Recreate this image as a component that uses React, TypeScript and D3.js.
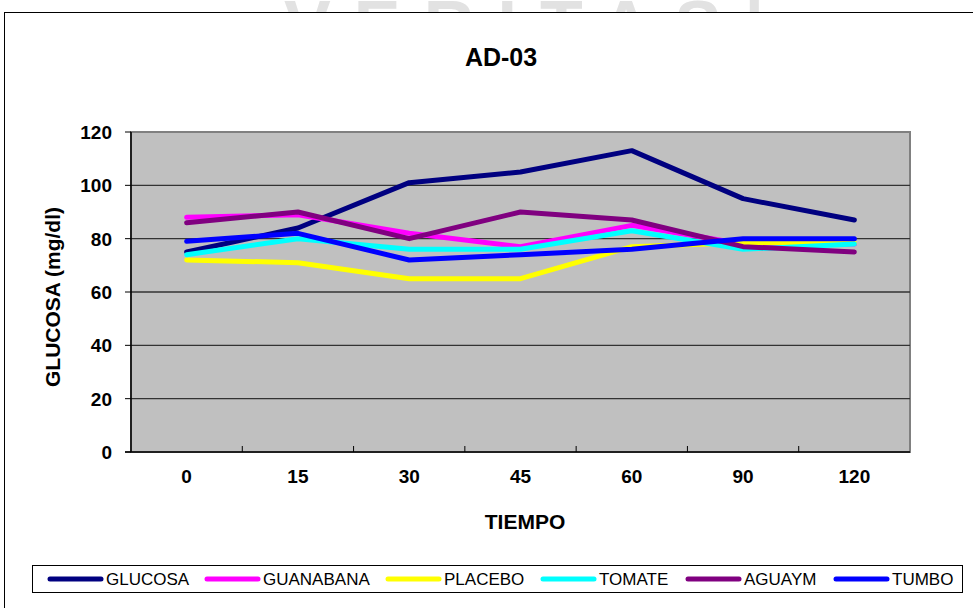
import React, { useRef, useEffect } from 'react';
import * as d3 from 'd3';

const tiempos = ['0', '15', '30', '45', '60', '90', '120'];
const yTicks = [0, 20, 40, 60, 80, 100, 120];

const glucosa = [75, 84, 101, 105, 113, 95, 87];
const guanabana = [88, 89, 82, 77, 85, 78, 78];
const placebo = [72, 71, 65, 65, 77, 78.5, 78.5];
const tomate = [74, 80, 76, 76, 83, 76, 78];
const aguaym = [86, 90, 80, 90, 87, 77, 75];
const tumbo = [79, 82, 72, 74, 76, 80, 80];

const seriesNames = ['GLUCOSA', 'GUANABANA', 'PLACEBO', 'TOMATE', 'AGUAYM', 'TUMBO'];
const seriesColors = ['#000080', '#FF00FF', '#FFFF00', '#00FFFF', '#800080', '#0000FF'];
const seriesValues = [glucosa, guanabana, placebo, tomate, aguaym, tumbo];

export default function App() {
    const svgRef = useRef<SVGSVGElement | null>(null);

    useEffect(() => {
        const width = 973;
        const height = 608;
        const plot = { left: 131, right: 910, top: 132, bottom: 452 };
        const font = "'Liberation Sans', Arial, sans-serif";

        d3.select(svgRef.current).selectAll('*').remove();

        const svg = d3
            .select(svgRef.current)
            .attr('width', width)
            .attr('height', height);

        svg.append('rect')
            .attr('width', width)
            .attr('height', height)
            .attr('fill', 'white');

        // watermark peeking above the chart frame
        svg.append('text')
            .attr('x', 284)
            .attr('y', 50)
            .attr('textLength', 480)
            .attr('lengthAdjust', 'spacing')
            .attr('font-family', font)
            .attr('font-weight', 'bold')
            .attr('font-size', 70)
            .attr('fill', '#e2e2e2')
            .text('VERITAS|');

        // chart frame
        svg.append('rect')
            .attr('x', 4.5)
            .attr('y', 12.5)
            .attr('width', 1000)
            .attr('height', 700)
            .attr('fill', 'white')
            .attr('stroke', 'black')
            .attr('stroke-width', 1);

        const x = d3
            .scaleBand()
            .domain(tiempos)
            .range([plot.left, plot.right]);

        const y = d3
            .scaleLinear()
            .domain([0, 120])
            .range([plot.bottom, plot.top]);

        // plot area
        svg.append('rect')
            .attr('x', plot.left)
            .attr('y', plot.top)
            .attr('width', plot.right - plot.left)
            .attr('height', plot.bottom - plot.top)
            .attr('fill', '#C0C0C0')
            .attr('stroke', '#808080')
            .attr('stroke-width', 2);

        yTicks.slice(1, -1).forEach((t) => {
            svg.append('line')
                .attr('x1', plot.left)
                .attr('x2', plot.right)
                .attr('y1', y(t))
                .attr('y2', y(t))
                .attr('stroke', '#333')
                .attr('stroke-width', 1.3);
        });

        // axes
        svg.append('line')
            .attr('x1', plot.left)
            .attr('x2', plot.left)
            .attr('y1', plot.top)
            .attr('y2', plot.bottom)
            .attr('stroke', 'black')
            .attr('stroke-width', 1.5);

        svg.append('line')
            .attr('x1', plot.left - 6)
            .attr('x2', plot.right)
            .attr('y1', plot.bottom)
            .attr('y2', plot.bottom)
            .attr('stroke', 'black')
            .attr('stroke-width', 1.5);

        yTicks.forEach((t) => {
            svg.append('line')
                .attr('x1', plot.left - 6)
                .attr('x2', plot.left)
                .attr('y1', y(t))
                .attr('y2', y(t))
                .attr('stroke', 'black')
                .attr('stroke-width', 1);

            svg.append('text')
                .attr('x', plot.left - 19)
                .attr('y', y(t) + 7)
                .attr('text-anchor', 'end')
                .attr('font-family', font)
                .attr('font-weight', 'bold')
                .attr('font-size', 19)
                .text(t);
        });

        tiempos.forEach((c, i) => {
            if (i > 0) {
                svg.append('line')
                    .attr('x1', x(c)!)
                    .attr('x2', x(c)!)
                    .attr('y1', plot.bottom)
                    .attr('y2', plot.bottom - 6)
                    .attr('stroke', 'black')
                    .attr('stroke-width', 1);
            }
            svg.append('text')
                .attr('x', x(c)! + x.bandwidth() / 2)
                .attr('y', 483)
                .attr('text-anchor', 'middle')
                .attr('font-family', font)
                .attr('font-weight', 'bold')
                .attr('font-size', 19)
                .text(c);
        });

        // lines
        const line = d3
            .line<number>()
            .x((_, i) => x(tiempos[i])! + x.bandwidth() / 2)
            .y((d) => y(d));

        seriesValues.forEach((vals, k) => {
            svg.append('path')
                .attr('d', line(vals))
                .attr('fill', 'none')
                .attr('stroke', seriesColors[k])
                .attr('stroke-width', 5)
                .attr('stroke-linejoin', 'round')
                .attr('stroke-linecap', 'round');
        });

        // titles
        svg.append('text')
            .attr('x', 501)
            .attr('y', 66)
            .attr('text-anchor', 'middle')
            .attr('font-family', font)
            .attr('font-weight', 'bold')
            .attr('font-size', 25)
            .text('AD-03');

        svg.append('text')
            .attr('x', 525)
            .attr('y', 529)
            .attr('text-anchor', 'middle')
            .attr('font-family', font)
            .attr('font-weight', 'bold')
            .attr('font-size', 21)
            .text('TIEMPO');

        svg.append('text')
            .attr('transform', `translate(60, 297) rotate(-90)`)
            .attr('text-anchor', 'middle')
            .attr('font-family', font)
            .attr('font-weight', 'bold')
            .attr('font-size', 21)
            .text('GLUCOSA (mg/dl)');

        // legend
        svg.append('rect')
            .attr('x', 32.5)
            .attr('y', 565.5)
            .attr('width', 930)
            .attr('height', 27)
            .attr('fill', 'white')
            .attr('stroke', 'black')
            .attr('stroke-width', 1);

        const legendX = [48, 205, 386, 541, 686, 834];
        seriesNames.forEach((name, k) => {
            const lx = legendX[k];
            svg.append('line')
                .attr('x1', lx + 2)
                .attr('x2', lx + 53)
                .attr('y1', 579)
                .attr('y2', 579)
                .attr('stroke', seriesColors[k])
                .attr('stroke-width', 5)
                .attr('stroke-linecap', 'round');
            svg.append('text')
                .attr('x', lx + 58)
                .attr('y', 585)
                .attr('font-family', font)
                .attr('font-size', 17)
                .text(name);
        });
    }, []);

    return <svg ref={svgRef} style={{ position: 'absolute', left: 0, top: 0, display: 'block' }}></svg>;
}
